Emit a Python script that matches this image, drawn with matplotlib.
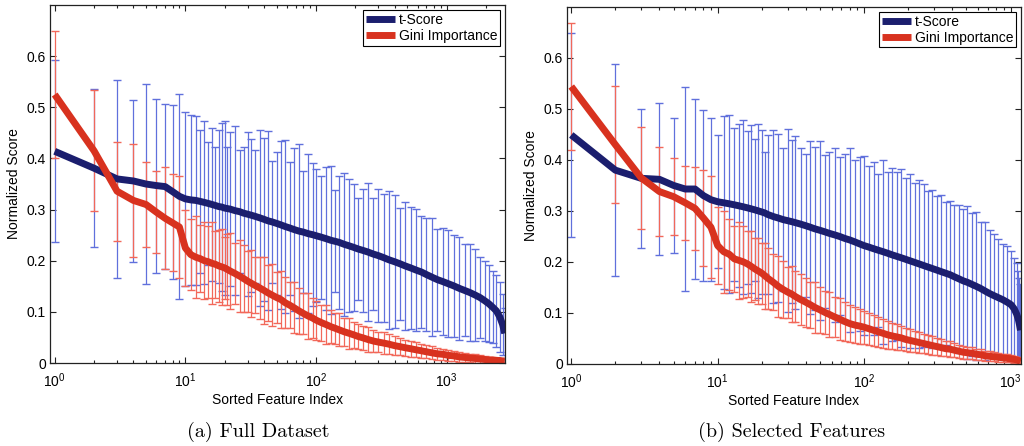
import matplotlib
matplotlib.use("Agg")
import matplotlib.pyplot as plt
from matplotlib.ticker import FixedLocator, LogLocator, NullFormatter

plt.rcParams['font.family'] = ['Liberation Sans', 'DejaVu Sans']

#Panel (a) - full dataset, sorted feature index and mean/std of the normalized scores
idx_a = [1, 2, 3, 4, 5, 6, 7, 8, 9, 10,
         11, 12, 13, 14, 15, 16, 17, 18, 19, 20,
         21, 22, 24, 26, 28, 30, 32, 34, 37, 40,
         43, 46, 50, 54, 58, 63, 68, 74, 80, 87,
         94, 100, 110, 120, 130, 140, 150, 165, 180, 195,
         210, 230, 250, 275, 300, 330, 360, 400, 440, 480,
         530, 580, 640, 700, 770, 850, 940, 1030, 1130, 1250,
         1370, 1500, 1650, 1800, 1950, 2100, 2250, 2400, 2550, 2680,
         2780]
tscore_a = [0.414, 0.381, 0.360, 0.356, 0.350, 0.347, 0.345, 0.335, 0.326, 0.321,
            0.319, 0.318, 0.316, 0.314, 0.312, 0.310, 0.308, 0.306, 0.305, 0.303,
            0.302, 0.301, 0.298, 0.296, 0.293, 0.291, 0.289, 0.287, 0.284, 0.281,
            0.278, 0.276, 0.273, 0.270, 0.267, 0.264, 0.261, 0.258, 0.256, 0.253,
            0.251, 0.249, 0.246, 0.243, 0.240, 0.238, 0.236, 0.232, 0.229, 0.226,
            0.223, 0.220, 0.217, 0.213, 0.210, 0.206, 0.202, 0.198, 0.194, 0.190,
            0.186, 0.182, 0.178, 0.173, 0.168, 0.163, 0.159, 0.155, 0.151, 0.146,
            0.142, 0.138, 0.133, 0.128, 0.122, 0.116, 0.109, 0.102, 0.090, 0.075,
            0.058]
tscore_err_a = [0.178, 0.155, 0.194, 0.159, 0.195, 0.170, 0.162, 0.170, 0.200, 0.170,
                0.166, 0.165, 0.140, 0.160, 0.120, 0.150, 0.115, 0.150, 0.165, 0.170,
                0.120, 0.150, 0.165, 0.120, 0.130, 0.160, 0.150, 0.130, 0.172, 0.160,
                0.175, 0.120, 0.140, 0.165, 0.170, 0.130, 0.160, 0.170, 0.120, 0.155,
                0.140, 0.130, 0.120, 0.140, 0.145, 0.100, 0.130, 0.140, 0.130, 0.125,
                0.100, 0.120, 0.135, 0.110, 0.130, 0.125, 0.135, 0.130, 0.110, 0.125,
                0.120, 0.120, 0.110, 0.110, 0.115, 0.100, 0.105, 0.105, 0.100, 0.100,
                0.090, 0.095, 0.090, 0.080, 0.078, 0.075, 0.070, 0.070, 0.068, 0.060,
                0.050]
gini_a = [0.525, 0.415, 0.336, 0.318, 0.310, 0.295, 0.283, 0.274, 0.266, 0.225,
          0.212, 0.207, 0.204, 0.200, 0.198, 0.195, 0.193, 0.190, 0.188, 0.186,
          0.183, 0.180, 0.175, 0.170, 0.165, 0.160, 0.156, 0.152, 0.147, 0.142,
          0.137, 0.133, 0.128, 0.124, 0.118, 0.113, 0.108, 0.102, 0.097, 0.092,
          0.088, 0.084, 0.079, 0.075, 0.071, 0.068, 0.065, 0.061, 0.058, 0.055,
          0.052, 0.049, 0.046, 0.043, 0.041, 0.039, 0.037, 0.034, 0.032, 0.030,
          0.028, 0.026, 0.024, 0.022, 0.020, 0.018, 0.017, 0.015, 0.014, 0.012,
          0.011, 0.010, 0.009, 0.008, 0.007, 0.006, 0.006, 0.005, 0.005, 0.004,
          0.004]
gini_err_a = [0.125, 0.118, 0.097, 0.110, 0.084, 0.080, 0.100, 0.095, 0.100, 0.075,
              0.070, 0.080, 0.065, 0.075, 0.070, 0.080, 0.065, 0.070, 0.075, 0.060,
              0.070, 0.075, 0.060, 0.070, 0.065, 0.060, 0.065, 0.055, 0.060, 0.065,
              0.055, 0.060, 0.050, 0.055, 0.050, 0.045, 0.050, 0.045, 0.040, 0.045,
              0.040, 0.038, 0.035, 0.038, 0.032, 0.030, 0.032, 0.028, 0.030, 0.026,
              0.025, 0.024, 0.025, 0.022, 0.020, 0.021, 0.019, 0.018, 0.017, 0.016,
              0.016, 0.015, 0.014, 0.013, 0.013, 0.012, 0.011, 0.011, 0.010, 0.009,
              0.009, 0.008, 0.008, 0.007, 0.006, 0.006, 0.005, 0.005, 0.005, 0.004,
              0.004]

#Panel (b) - selected features
idx_b = [1, 2, 3, 4, 5, 6, 7, 8, 9, 10,
         11, 12, 13, 14, 15, 16, 17, 18, 19, 20,
         21, 22, 24, 26, 28, 30, 32, 34, 37, 40,
         43, 46, 50, 54, 58, 63, 68, 74, 80, 87,
         94, 100, 108, 116, 125, 135, 145, 155, 167, 180,
         193, 207, 222, 238, 255, 273, 293, 314, 336, 360,
         386, 413, 443, 475, 508, 545, 585, 625, 670, 720,
         770, 825, 885, 950, 1010, 1060, 1100, 1130, 1150, 1170]
tscore_b = [0.449, 0.380, 0.364, 0.362, 0.350, 0.343, 0.343, 0.330, 0.322, 0.318,
            0.316, 0.314, 0.312, 0.310, 0.308, 0.306, 0.304, 0.302, 0.300, 0.298,
            0.296, 0.293, 0.289, 0.286, 0.283, 0.281, 0.279, 0.277, 0.274, 0.271,
            0.268, 0.265, 0.262, 0.259, 0.256, 0.253, 0.250, 0.246, 0.243, 0.239,
            0.235, 0.232, 0.229, 0.226, 0.223, 0.220, 0.217, 0.214, 0.211, 0.208,
            0.205, 0.202, 0.199, 0.196, 0.193, 0.190, 0.187, 0.184, 0.181, 0.178,
            0.175, 0.171, 0.167, 0.163, 0.160, 0.156, 0.152, 0.148, 0.143, 0.138,
            0.134, 0.130, 0.126, 0.121, 0.116, 0.108, 0.098, 0.088, 0.078, 0.066]
tscore_err_b = [0.200, 0.208, 0.136, 0.149, 0.133, 0.200, 0.177, 0.168, 0.160, 0.130,
                0.170, 0.175, 0.150, 0.160, 0.170, 0.150, 0.165, 0.140, 0.170, 0.160,
                0.120, 0.155, 0.170, 0.165, 0.140, 0.180, 0.160, 0.170, 0.150, 0.140,
                0.170, 0.160, 0.175, 0.150, 0.160, 0.170, 0.155, 0.165, 0.180, 0.160,
                0.170, 0.175, 0.160, 0.170, 0.150, 0.180, 0.160, 0.170, 0.165, 0.175,
                0.160, 0.170, 0.155, 0.165, 0.160, 0.150, 0.155, 0.145, 0.150, 0.140,
                0.145, 0.140, 0.145, 0.140, 0.150, 0.140, 0.145, 0.130, 0.135, 0.125,
                0.120, 0.115, 0.110, 0.110, 0.105, 0.100, 0.100, 0.095, 0.090, 0.090]
gini_b = [0.544, 0.430, 0.365, 0.338, 0.328, 0.316, 0.305, 0.286, 0.268, 0.232,
          0.220, 0.215, 0.206, 0.203, 0.200, 0.196, 0.191, 0.186, 0.182, 0.178,
          0.173, 0.168, 0.160, 0.152, 0.146, 0.141, 0.137, 0.132, 0.126, 0.121,
          0.116, 0.111, 0.106, 0.101, 0.097, 0.092, 0.088, 0.083, 0.079, 0.076,
          0.074, 0.072, 0.069, 0.066, 0.063, 0.060, 0.057, 0.055, 0.053, 0.051,
          0.048, 0.046, 0.044, 0.042, 0.040, 0.038, 0.036, 0.034, 0.032, 0.030,
          0.029, 0.027, 0.025, 0.023, 0.022, 0.021, 0.019, 0.018, 0.016, 0.015,
          0.014, 0.013, 0.012, 0.011, 0.010, 0.009, 0.008, 0.007, 0.006, 0.005]
gini_err_b = [0.124, 0.115, 0.100, 0.088, 0.075, 0.072, 0.082, 0.094, 0.100, 0.075,
              0.080, 0.070, 0.065, 0.075, 0.070, 0.065, 0.070, 0.060, 0.065, 0.060,
              0.065, 0.060, 0.055, 0.060, 0.055, 0.050, 0.055, 0.050, 0.050, 0.048,
              0.045, 0.050, 0.045, 0.042, 0.045, 0.040, 0.042, 0.038, 0.036, 0.035,
              0.034, 0.032, 0.031, 0.030, 0.029, 0.028, 0.027, 0.026, 0.025, 0.024,
              0.023, 0.022, 0.021, 0.020, 0.019, 0.018, 0.018, 0.017, 0.016, 0.015,
              0.015, 0.014, 0.013, 0.013, 0.012, 0.012, 0.011, 0.011, 0.010, 0.010,
              0.009, 0.009, 0.008, 0.008, 0.007, 0.007, 0.006, 0.006, 0.005, 0.005]

y_ticks = [0, 0.1, 0.2, 0.3, 0.4, 0.5, 0.6]
y_tick_labels = ["0", "0.1", "0.2", "0.3", "0.4", "0.5", "0.6"]
captions = ["(a) Full Dataset", "(b) Selected Features"]

NAVY = '#1b1e6e'
RED = '#d8321f'


def draw_panel(fig, rect, idx, t, t_err, g, g_err, xlim):
    ax = fig.add_axes(rect)
    #thin error bars first, the thick mean lines go over them
    eb = ax.errorbar(idx, t, yerr=t_err, fmt='none', ecolor='#6070dc',
                     elinewidth=0.9, capsize=3, capthick=1.0)
    for cap in eb[1]:
        cap.set_color('#28318e')
    eb = ax.errorbar(idx, g, yerr=g_err, fmt='none', ecolor='#f2685a',
                     elinewidth=0.9, capsize=3, capthick=1.0)
    for cap in eb[1]:
        cap.set_color('#d83324')
    ax.plot(idx, t, color=NAVY, lw=5, label='t-Score',
            solid_joinstyle='round', solid_capstyle='butt')
    ax.plot(idx, g, color=RED, lw=5, label='Gini Importance',
            solid_joinstyle='round', solid_capstyle='butt')

    ax.set_xscale('log')
    ax.set_xlim(*xlim)
    ax.set_ylim(0, 0.7)
    ax.yaxis.set_major_locator(FixedLocator(y_ticks))
    ax.set_yticklabels(y_tick_labels)
    ax.xaxis.set_minor_locator(LogLocator(base=10, subs=range(2, 10), numticks=20))
    ax.xaxis.set_minor_formatter(NullFormatter())
    ax.tick_params(which='both', direction='in', top=True, right=True, labelsize=10,
                   color='#222222', width=0.8)
    ax.tick_params(which='major', length=4)
    ax.tick_params(which='minor', length=2.5)
    ax.tick_params(axis='y', pad=3)
    ax.tick_params(axis='x', pad=6)
    for sp in ax.spines.values():
        sp.set_color('#222222')
        sp.set_linewidth(0.9)

    ax.set_xlabel('Sorted Feature Index', fontsize=10, labelpad=2)
    ax.set_ylabel('Normalized Score', fontsize=10, labelpad=4)
    leg = ax.legend(loc='upper right', fontsize=10, fancybox=False, framealpha=1,
                    edgecolor='black', borderaxespad=0.35, handlelength=2.1,
                    handletextpad=0.25, labelspacing=0.15, borderpad=0.2)
    leg.get_frame().set_linewidth(0.8)
    return ax


def main():
    fig = plt.figure(figsize=(10.24, 4.46), dpi=100)
    draw_panel(fig, [0.0488, 0.186, 0.4443, 0.8027], idx_a, tscore_a, tscore_err_a,
               gini_a, gini_err_a, (0.92, 2790))
    draw_panel(fig, [0.5537, 0.184, 0.4434, 0.8004], idx_b, tscore_b, tscore_err_b,
               gini_b, gini_err_b, (0.935, 1180))
    fig.text(0.252, 0.032, captions[0], fontsize=14.5, family='cmr10', ha='center', va='center')
    fig.text(0.773, 0.032, captions[1], fontsize=14.5, family='cmr10', ha='center', va='center')
    fig.savefig('out.png', dpi=100)


if __name__ == "__main__":
    main()
